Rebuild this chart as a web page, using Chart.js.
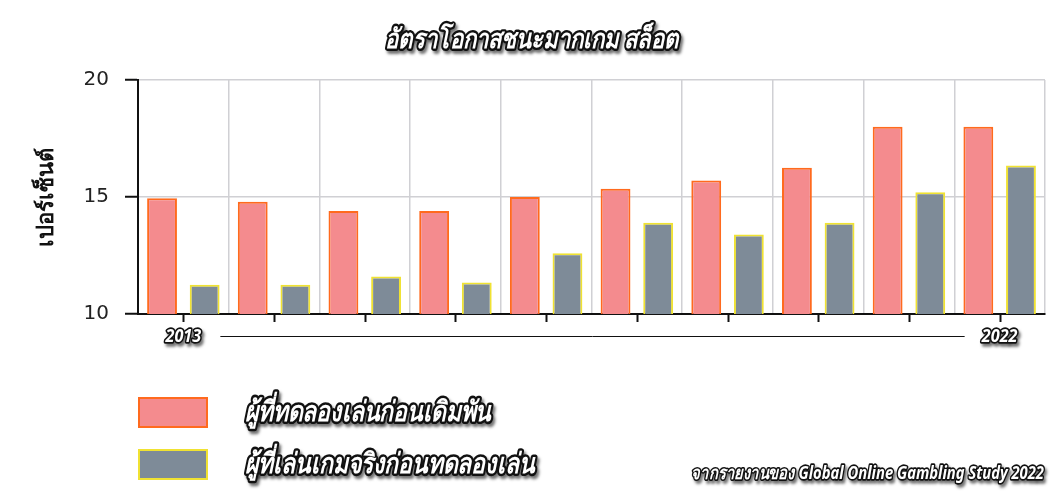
<!DOCTYPE html>
<html>
<head>
<meta charset="utf-8">
<script src="https://cdn.jsdelivr.net/npm/chart.js@4.4.1/dist/chart.umd.min.js"></script>
<style>
  html, body { margin: 0; padding: 0; background: #fff; }
  #chart { display: block; }
</style>
</head>
<body>
<canvas id="chart" width="1060" height="500"></canvas>
<script>
const years = ['2013','2014','2015','2016','2017','2018','2019','2020','2021','2022'];
const trialFirst = [14.95, 14.8, 14.4, 14.4, 15.0, 15.35, 15.7, 16.25, 18.0, 18.0];
const realFirst = [11.25, 11.25, 11.6, 11.35, 12.6, 13.9, 13.4, 13.9, 15.2, 16.35];
const yTicks = [10, 15, 20];

const titleText = 'อัตราโอกาสชนะมากเกม สล็อต';
const yTitle = 'เปอร์เซ็นต์';
const seriesNames = ['ผู้ที่ทดลองเล่นก่อนเดิมพัน', 'ผู้ที่เล่นเกมจริงก่อนทดลองเล่น'];
const sourceText = 'จากรายงานของ Global Online Gambling Study 2022';

const pink = '#f48b8e', pinkBorder = '#ff6a1e';
const grey = '#7e8b98', greyBorder = '#f0e232';
const fancyFont = '"Liberation Sans Narrow", "Noto Sans", sans-serif';

// condensed italic text with dark outline and drop shadow
function fancyText(ctx, text, x, y, size, align, squeeze) {
  const sx = squeeze || 0.82;
  ctx.save();
  ctx.translate(x, y);
  ctx.scale(sx, 1);
  ctx.font = 'italic bold ' + size + 'px ' + fancyFont;
  ctx.textAlign = align || 'left';
  ctx.textBaseline = 'middle';
  ctx.lineJoin = 'round';
  ctx.shadowColor = 'rgba(0,0,0,0.55)';
  ctx.shadowOffsetX = 2;
  ctx.shadowOffsetY = 3;
  ctx.shadowBlur = 3;
  ctx.strokeStyle = '#111';
  ctx.lineWidth = Math.max(3, size / 5.5);
  ctx.strokeText(text, 0, 0);
  ctx.shadowColor = 'transparent';
  ctx.fillStyle = '#fff';
  ctx.fillText(text, 0, 0);
  ctx.restore();
}

const decor = {
  id: 'decor',
  afterDraw(chart) {
    const ctx = chart.ctx;
    const xs = chart.scales.x;
    const area = chart.chartArea;
    // tick marks at category centres
    ctx.save();
    ctx.strokeStyle = '#111';
    ctx.lineWidth = 2;
    years.forEach((y, i) => {
      const px = Math.round(xs.getPixelForTick(i)) + 0.5;
      ctx.beginPath();
      ctx.moveTo(px, area.bottom);
      ctx.lineTo(px, area.bottom + 8);
      ctx.stroke();
    });
    // thin line between first and last year labels
    ctx.lineWidth = 1;
    ctx.beginPath();
    ctx.moveTo(xs.getPixelForTick(0) + 37, 336.5);
    ctx.lineTo(xs.getPixelForTick(years.length - 1) - 35, 336.5);
    ctx.stroke();
    ctx.restore();

    fancyText(ctx, years[0], xs.getPixelForTick(0), 337, 18, 'center', 0.9);
    fancyText(ctx, years[years.length - 1], xs.getPixelForTick(years.length - 1), 337, 18, 'center', 0.9);

    fancyText(ctx, titleText, 532, 40, 27, 'center');

    // legend
    const boxes = [[pink, pinkBorder, 398], [grey, greyBorder, 450]];
    boxes.forEach((b, i) => {
      ctx.save();
      ctx.fillStyle = b[0];
      ctx.strokeStyle = b[1];
      ctx.lineWidth = 2;
      ctx.fillRect(139, b[2], 68, 29);
      ctx.strokeRect(139, b[2], 68, 29);
      ctx.restore();
      fancyText(ctx, seriesNames[i], 245, b[2] + 15, 28, 'left');
    });

    fancyText(ctx, sourceText, 1044, 474, 18, 'right');
  }
};

new Chart(document.getElementById('chart'), {
  type: 'bar',
  data: {
    labels: years,
    datasets: [
      { label: seriesNames[0], data: trialFirst, backgroundColor: pink, borderColor: pinkBorder, borderWidth: 2 },
      { label: seriesNames[1], data: realFirst, backgroundColor: grey, borderColor: greyBorder, borderWidth: 2 }
    ]
  },
  options: {
    responsive: false,
    animation: false,
    categoryPercentage: 0.94,
    barPercentage: 0.7,
    layout: { padding: { top: 80, right: 15, left: 0, bottom: 0 } },
    plugins: {
      legend: { display: false },
      title: { display: false },
      tooltip: { enabled: false }
    },
    scales: {
      x: {
        afterFit(scale) { scale.height = 186; },
        grid: { offset: true, color: '#d0d0d4', lineWidth: 1.5, drawTicks: false },
        border: { color: '#111', width: 2 },
        ticks: { display: false }
      },
      y: {
        min: 10,
        max: 20,
        afterFit(scale) { scale.width = 138; },
        afterBuildTicks(scale) { scale.ticks = yTicks.map(v => ({ value: v })); },
        grid: { color: '#d0d0d4', lineWidth: 1.5, tickLength: 13, tickColor: '#111', tickWidth: 2 },
        border: { color: '#111', width: 2 },
        ticks: { color: '#222', padding: 16, font: { family: '"DejaVu Sans", sans-serif', size: 20 } },
        title: {
          display: true,
          text: yTitle,
          color: '#111',
          padding: { top: 34, bottom: 0 },
          font: { family: '"Noto Sans", sans-serif', size: 22, weight: 'bold' }
        }
      }
    }
  },
  plugins: [decor]
});
</script>
</body>
</html>
